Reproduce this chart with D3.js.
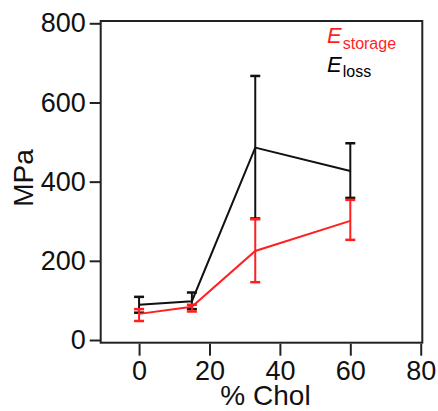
<!DOCTYPE html>
<html><head><meta charset="utf-8">
<script src="https://cdn.jsdelivr.net/npm/d3@7"></script>
<style>body{margin:0;background:#fff}svg{display:block}text{font-family:"Liberation Sans",Arial,sans-serif}</style>
</head><body><svg id="c" width="438" height="411"></svg>
<script>
const chol = [0, 15, 33, 60];
const lossMean = [89, 98, 486, 427];
const lossLo = [69, 78, 307, 359];
const lossHi = [109, 120, 667, 497];
const storMean = [66, 84, 225, 301];
const storLo = [48, 72, 146, 253];
const storHi = [78, 89, 305, 354];
const xTicks = [0, 20, 40, 60, 80];
const yTicks = [0, 200, 400, 600, 800];

(function(){
const svg = d3.select("#c");
const x = d3.scaleLinear().domain([-10.9, 80.45]).range([100.7, 422.3]);
const y = d3.scaleLinear().domain([0, 800]).range([340, 23.3]);
const fL = 100.7, fR = 422.3, fT = 21, fB = 342.7;
const RED = "#ff1f1f", BLK = "#111";

// frame
svg.append("rect").attr("x", fL).attr("y", fT).attr("width", fR-fL).attr("height", fB-fT)
  .attr("fill","none").attr("stroke","#222").attr("stroke-width",2);

// y axis
const ya = svg.append("g").attr("transform",`translate(${fL},0)`)
  .call(d3.axisLeft(y).tickValues(yTicks).tickSize(11).tickPadding(4));
ya.select(".domain").remove();
ya.selectAll("line").attr("stroke","#222").attr("stroke-width",2);
ya.selectAll("text").attr("font-size",27).attr("fill","#111").attr("font-family","Liberation Sans, Arial, sans-serif");

// x axis
const xa = svg.append("g").attr("transform",`translate(0,${fB+1})`)
  .call(d3.axisBottom(x).tickValues(xTicks).tickSize(12).tickPadding(5));
xa.select(".domain").remove();
xa.selectAll("line").attr("stroke","#222").attr("stroke-width",2);
xa.selectAll("text").attr("font-size",27).attr("fill","#111").attr("font-family","Liberation Sans, Arial, sans-serif");

// labels
svg.append("text").attr("transform","translate(33,178) rotate(-90)").attr("text-anchor","middle")
  .attr("font-size",28).attr("fill","#111").text("MPa");
svg.append("text").attr("x",265.5).attr("y",405).attr("text-anchor","middle")
  .attr("font-size",28).attr("fill","#111").text("% Chol");

function series(mean, lo, hi, color) {
  const line = d3.line().x((d,i)=>x(chol[i])).y(d=>y(d));
  const g = svg.append("g");
  chol.forEach((c,i)=>{
    const cx = x(c);
    g.append("line").attr("x1",cx).attr("x2",cx).attr("y1",y(lo[i])).attr("y2",y(hi[i]))
      .attr("stroke",color).attr("stroke-width",2);
    [lo[i],hi[i]].forEach(v=>{
      g.append("line").attr("x1",cx-5).attr("x2",cx+5).attr("y1",y(v)).attr("y2",y(v))
        .attr("stroke",color).attr("stroke-width",2.5);
    });
  });
  g.append("path").datum(mean).attr("d",line).attr("fill","none").attr("stroke",color).attr("stroke-width",2);
}
series(lossMean, lossLo, lossHi, BLK);
series(storMean, storLo, storHi, RED);

// legend
const l1 = svg.append("text").attr("x",327).attr("y",43).attr("fill",RED);
l1.append("tspan").attr("font-size",22).attr("font-style","italic").text("E");
l1.append("tspan").attr("font-size",16).attr("dy",6).attr("dx",1).text("storage");
const l2 = svg.append("text").attr("x",327).attr("y",72).attr("fill","#000");
l2.append("tspan").attr("font-size",22).attr("font-style","italic").text("E");
l2.append("tspan").attr("font-size",16).attr("dy",5).attr("dx",1).text("loss");
})();
</script></body></html>
